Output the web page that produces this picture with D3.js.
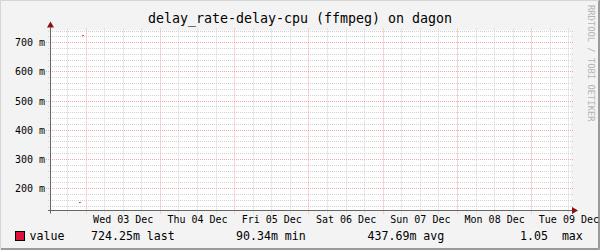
<meta charset="utf-8">
<style>
body { margin: 0; background: #f3f3f3; }
text { font-family: "DejaVu Sans Mono", monospace; fill: #000; }
.minor { stroke: #d2d2d2; stroke-dasharray: 1,1; }
.major { stroke: #f5a8a8; stroke-dasharray: 1,1; }
.axis { stroke: #666; }
.arrow { fill: #8b1010; }
</style>
<body>
<script src="https://cdnjs.cloudflare.com/ajax/libs/d3/7.8.5/d3.min.js"></script>
<script>

var title = "delay_rate-delay-cpu (ffmpeg) on dagon";
var watermark = "RRDTOOL / TOBI OETIKER";

// time window and samples (30 min consolidated)
var timeRange = ["2025-12-02T12:40", "2025-12-09T12:40"];
var sampleTimes = ["2025-12-02T21:45", "2025-12-02T22:15", "2025-12-02T22:45"];
var sampleValues = [0.153, null, 0.72425];
var stepMinutes = 30;

var yRange = [0.1253, 0.7418];
var yMajor = [0.2, 0.3, 0.4, 0.5, 0.6, 0.7];
var yMinor = [0.14, 0.16, 0.18, 0.22, 0.24, 0.26, 0.28, 0.32, 0.34, 0.36, 0.38,
              0.42, 0.44, 0.46, 0.48, 0.52, 0.54, 0.56, 0.58, 0.62, 0.64, 0.66,
              0.68, 0.72, 0.74];

var legendName = "value";
var statValues = ["724.25m", "90.34m", "437.69m", "1.05 "];
var statLabels = ["last", "min", "avg", "max"];
var lineColor = "#dc143c";

var width = 600, height = 250;
var plotL = 51, plotR = 571, plotT = 30.5, plotB = 210.5;

var parse = d3.utcParse("%Y-%m-%dT%H:%M");
var t0 = parse(timeRange[0]), t1 = parse(timeRange[1]);

var x = d3.scaleUtc().domain([t0, t1]).range([plotL, plotR]);
var y = d3.scaleLinear().domain(yRange).range([plotB, plotT]);

function px(v) { return Math.floor(v) + 0.5; }

var svg = d3.select("body").append("svg")
    .attr("width", width)
    .attr("height", height)
    .style("display", "block");

// frame
svg.append("rect").attr("width", width).attr("height", height).attr("fill", "#f3f3f3");
svg.append("path").attr("d", "M0.5,249 V0.5 H599").attr("fill", "none").attr("stroke", "#d6d6d6");
svg.append("path").attr("d", "M1,248.5 H598.5 V1").attr("fill", "none").attr("stroke", "#9a9a9a");
svg.append("path").attr("d", "M1,249.5 H599.5 V0").attr("fill", "none").attr("stroke", "#9a9a9a");

svg.append("rect")
    .attr("x", plotL).attr("y", plotT)
    .attr("width", plotR - plotL).attr("height", plotB - plotT)
    .attr("fill", "#fff");

// grid
var days = d3.utcDay.range(d3.utcDay.ceil(t0), t1);
var quarters = d3.utcHour.every(6).range(t0, t1).filter(function(d) { return d.getUTCHours() != 0; });

svg.selectAll(".vminor").data(quarters).enter().append("line")
    .attr("class", "minor")
    .attr("x1", function(d) { return px(x(d)); }).attr("x2", function(d) { return px(x(d)); })
    .attr("y1", plotT - 2).attr("y2", plotB + 3);

svg.selectAll(".hminor").data(yMinor).enter().append("line")
    .attr("class", "minor")
    .attr("x1", plotL - 3).attr("x2", plotR + 2)
    .attr("y1", function(d) { return px(y(d)); }).attr("y2", function(d) { return px(y(d)); });

svg.selectAll(".vmajor").data(days).enter().append("line")
    .attr("class", "major")
    .attr("x1", function(d) { return px(x(d)); }).attr("x2", function(d) { return px(x(d)); })
    .attr("y1", plotT - 2).attr("y2", plotB + 3);

svg.selectAll(".hmajor").data(yMajor).enter().append("line")
    .attr("class", "major")
    .attr("x1", plotL - 5).attr("x2", plotR + 2)
    .attr("y1", function(d) { return px(y(d)); }).attr("y2", function(d) { return px(y(d)); });

// data
var step = stepMinutes * 60000;
var samples = sampleTimes.map(function(t, i) { return {t: parse(t), v: sampleValues[i]}; })
    .filter(function(d) { return d.v != null; });

svg.selectAll(".seg").data(samples).enter().append("line")
    .attr("stroke", lineColor)
    .attr("x1", function(d) { return x(d.t); })
    .attr("x2", function(d) { return x(new Date(+d.t + step)); })
    .attr("y1", function(d) { return px(y(d.v)); })
    .attr("y2", function(d) { return px(y(d.v)); });

// axes
svg.append("line").attr("class", "axis")
    .attr("x1", plotL - 3).attr("x2", plotR + 1)
    .attr("y1", px(plotB)).attr("y2", px(plotB));
svg.append("line").attr("class", "axis")
    .attr("x1", plotL - 0.5).attr("x2", plotL - 0.5)
    .attr("y1", plotB + 3).attr("y2", plotT - 3);
svg.append("path").attr("class", "arrow")
    .attr("d", "M" + (plotR + 1) + "," + (px(plotB) - 3.5) + " L" + (plotR + 7) + "," + px(plotB) +
               " L" + (plotR + 1) + "," + (px(plotB) + 3.5) + "Z");
svg.append("path").attr("class", "arrow")
    .attr("d", "M" + (plotL - 4) + "," + (plotT - 3) + " L" + (plotL - 0.5) + "," + (plotT - 9) +
               " L" + (plotL + 3) + "," + (plotT - 3) + "Z");

// tick labels
svg.selectAll(".ylab").data(yMajor).enter().append("text")
    .attr("x", 45).attr("y", function(d) { return px(y(d)) + 3.5; })
    .attr("text-anchor", "end")
    .style("font-size", "10px")
    .text(function(d) { return Math.round(d * 1000) + " m"; });

var fmt = d3.utcFormat("%a %d %b");
svg.selectAll(".xlab").data(days).enter().append("text")
    .attr("x", function(d) { return x(d3.utcHour.offset(d, 12)); })
    .attr("y", 223)
    .attr("text-anchor", "middle")
    .style("font-size", "10px")
    .text(fmt);

// title
svg.append("text")
    .attr("x", 300).attr("y", 22.5)
    .attr("text-anchor", "middle")
    .style("font-size", "13.3px")
    .text(title);

// watermark
svg.append("text")
    .attr("transform", "translate(587.5,5) rotate(90)")
    .style("font-size", "8.8px")
    .style("fill", "#b4b4b4")
    .text(watermark);

// legend
svg.append("rect")
    .attr("x", 15.5).attr("y", 231.5).attr("width", 9).attr("height", 9)
    .attr("fill", lineColor).attr("stroke", "#000");

svg.append("text")
    .attr("x", 29.5).attr("y", 239.5)
    .style("font-size", "11.6px")
    .text(legendName);

var statX = [91, 236, 367.5, 520];
svg.selectAll(".stat").data(statValues).enter().append("text")
    .attr("x", function(d, i) { return statX[i]; })
    .attr("y", 239.5)
    .style("font-size", "11.6px")
    .style("white-space", "pre")
    .text(function(d, i) { return d + " " + statLabels[i]; });

</script>
